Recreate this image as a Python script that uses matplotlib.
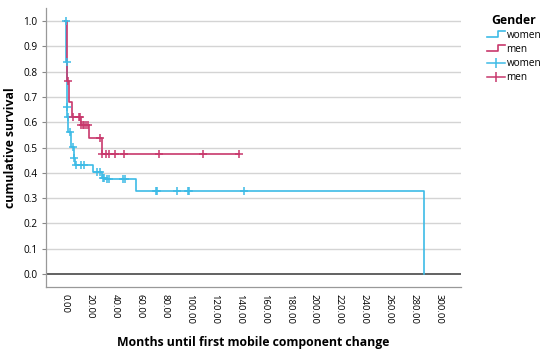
import numpy as np
import matplotlib
matplotlib.use("Agg")
from matplotlib import pyplot as plt
from matplotlib.lines import Line2D
from matplotlib.legend_handler import HandlerBase

plt.rcParams['font.family'] = ['Open Sans', 'DejaVu Sans']

# Kaplan-Meier steps
women_t = [0.8, 1.2, 1.4, 2.4, 4.9, 6.7, 8.1, 22.1, 29.2, 31.0, 56.7, 288.5]
women_s = [0.84, 0.661, 0.62, 0.562, 0.503, 0.457, 0.431, 0.404, 0.381, 0.375, 0.329, 0.0]
women_cens = [0.3, 1.0, 1.3, 1.8, 3.5, 5.8, 7.3, 8.6, 12.6, 15.3, 25.4, 27.5, 30.0,
              30.8, 33.5, 35.5, 46.2, 47.8, 72.9, 74.0, 90.1, 98.5, 99.8, 143.5]

men_t = [1.0, 2.9, 5.1, 12.5, 18.9, 29.2]
men_s = [0.763, 0.68, 0.622, 0.589, 0.536, 0.474]
men_cens = [2.4, 5.9, 10.8, 12.1, 12.9, 14.0, 15.4, 16.7, 18.0, 28.1, 29.8, 32.4,
            35.0, 39.7, 47.0, 75.3, 110.4, 139.5]

xticks = np.arange(0, 301, 20)
yticks = np.arange(0, 1.01, 0.1)

c_women = '#3dbbe6'
c_men = '#c8386c'


def surv_at(times, levels, t):
    i = np.searchsorted(times, t, side='right')
    return levels[i - 1]


class StepHandler(HandlerBase):
    def create_artists(self, legend, orig_handle, xdescent, ydescent, width, height, fontsize, trans):
        xs = np.array([0, width * 0.6, width * 0.6, width]) - xdescent
        ys = np.array([0.15, 0.15, 0.95, 0.95]) * height - ydescent
        ln = Line2D(xs, ys, color=orig_handle.get_color(), lw=1.2)
        ln.set_transform(trans)
        return [ln]


fig = plt.figure(figsize=(5.5, 3.51), dpi=100)
ax = fig.add_axes([46 / 550, 1 - 287 / 351, 415 / 550, 279 / 351])

# women
wx = np.array([0] + women_t)
wy = np.array([1.0] + women_s)
l1, = ax.plot(wx, wy, drawstyle='steps-post', color=c_women, lw=1.2, zorder=3)
wc = [surv_at(wx, wy, t) for t in women_cens]
ax.plot(women_cens, wc, ls='none', marker='+', ms=6, mew=1.1, color=c_women, zorder=4)

# men
mx = np.array([0] + men_t + [men_cens[-1]])
my = np.array([1.0] + men_s + [men_s[-1]])
l2, = ax.plot(mx, my, drawstyle='steps-post', color=c_men, lw=1.2, zorder=3)
mc = [surv_at(mx, my, t) for t in men_cens]
ax.plot(men_cens, mc, ls='none', marker='+', ms=6, mew=1.1, color=c_men, zorder=4)

# legend proxies for censored marks: line with a tick
p1 = Line2D([], [], color=c_women, lw=1.1, marker='|', ms=7, mew=1.1)
p2 = Line2D([], [], color=c_men, lw=1.1, marker='|', ms=7, mew=1.1)

for y in yticks[1:]:
    ax.axhline(y, color='#d4d4d4', lw=1.0, zorder=1)
ax.axhline(0, color='#555555', lw=1.3, zorder=2)

ax.set_xlim(-15.5, 318)
ax.set_ylim(-0.052, 1.052)
ax.set_xticks(xticks)
ax.set_xticklabels(['%.2f' % v for v in xticks], rotation=270, fontsize=6.8)
ax.set_yticks(yticks)
ax.set_yticklabels(['%.1f' % v for v in yticks], fontsize=7.2)
ax.tick_params(axis='x', length=0, pad=5)
ax.tick_params(axis='y', length=3, color='#888888', pad=3)
for s in ['top', 'right']:
    ax.spines[s].set_visible(False)
for s in ['left', 'bottom']:
    ax.spines[s].set_color('#999999')
    ax.spines[s].set_linewidth(0.9)

ax.set_xlabel('Months until first mobile component change', fontsize=8.8,
              fontweight='bold', labelpad=9)
ax.set_ylabel('cumulative survival', fontsize=8.8, fontweight='bold')
ax.yaxis.set_label_coords(-0.07, 0.5)

leg = fig.legend([l1, l2, p1, p2], ['women', 'men', 'women', 'men'],
                 handler_map={l1: StepHandler(), l2: StepHandler()},
                 loc='upper left', bbox_to_anchor=(487 / 550, 1 - 14 / 351),
                 frameon=False, fontsize=7.2, title='Gender',
                 title_fontproperties={'weight': 'bold', 'size': 8.8},
                 handlelength=1.8, handletextpad=0.15, labelspacing=0.3,
                 borderaxespad=0, borderpad=0)

fig.savefig('out.png', dpi=100)
